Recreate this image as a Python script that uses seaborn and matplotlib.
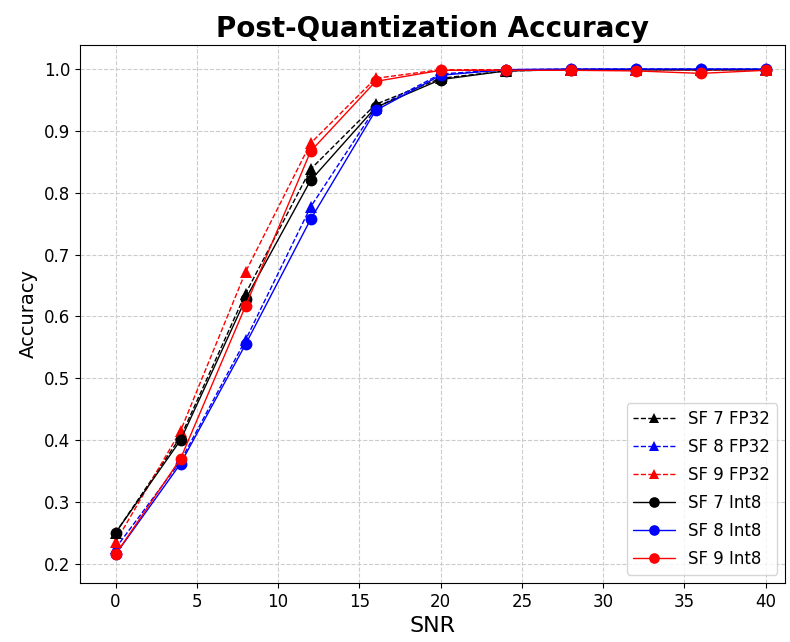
import matplotlib
matplotlib.use("Agg")
import matplotlib.pyplot as plt
import seaborn as sns
import pandas as pd

snr = [0, 4, 8, 12, 16, 20, 24, 28, 32, 36, 40]
sf7_fp32 = [0.250, 0.405, 0.637, 0.838, 0.943, 0.985, 0.997, 0.999, 0.999, 0.999, 0.999]
sf8_fp32 = [0.225, 0.366, 0.562, 0.777, 0.937, 0.992, 0.999, 1.000, 1.000, 1.000, 1.000]
sf9_fp32 = [0.235, 0.415, 0.672, 0.880, 0.985, 0.999, 0.999, 0.999, 0.999, 0.998, 0.999]
sf7_int8 = [0.250, 0.400, 0.628, 0.820, 0.938, 0.983, 0.997, 0.999, 0.999, 0.999, 0.999]
sf8_int8 = [0.215, 0.362, 0.555, 0.757, 0.933, 0.990, 0.999, 1.000, 1.000, 1.000, 1.000]
sf9_int8 = [0.215, 0.370, 0.617, 0.867, 0.980, 0.998, 0.998, 0.998, 0.997, 0.993, 0.998]

labels = ["SF 7 FP32", "SF 8 FP32", "SF 9 FP32", "SF 7 Int8", "SF 8 Int8", "SF 9 Int8"]
series = [sf7_fp32, sf8_fp32, sf9_fp32, sf7_int8, sf8_int8, sf9_int8]
colors = ["black", "blue", "red", "black", "blue", "red"]
styles = ["--", "--", "--", "-", "-", "-"]
markers = ["^", "^", "^", "o", "o", "o"]

sns.set_style("ticks")
plt.rcParams.update({"text.color": "black", "axes.labelcolor": "black",
                     "xtick.color": "black", "ytick.color": "black",
                     "axes.edgecolor": "black"})
fig, ax = plt.subplots(figsize=(7.9, 6.42), dpi=100)

for lab, vals, c, ls, m in zip(labels, series, colors, styles, markers):
    df = pd.DataFrame({"SNR": snr, "Accuracy": vals})
    sns.lineplot(data=df, x="SNR", y="Accuracy", ax=ax, color=c, linestyle=ls,
                 marker=m, markersize=8.5, markeredgewidth=0, linewidth=1.0, label=lab)

ax.set_title("Post-Quantization Accuracy", fontsize=20, fontweight="bold", color="black")
ax.set_xlabel("SNR", fontsize=16)
ax.set_ylabel("Accuracy", fontsize=14)
ax.set_xticks([0, 5, 10, 15, 20, 25, 30, 35, 40])
ax.set_yticks([0.2, 0.3, 0.4, 0.5, 0.6, 0.7, 0.8, 0.9, 1.0])
ax.tick_params(labelsize=12, colors="black")
ax.grid(True, linestyle="--", color="#cccccc", linewidth=0.8)
ax.set_xlim(-2.2, 41.2)
ax.set_ylim(0.169, 1.039)
for s in ax.spines.values():
    s.set_visible(True)
    s.set_color("black")
ax.legend(loc="lower right", fontsize=12, frameon=True, handlelength=2.5,
          labelspacing=0.6, markerscale=0.9)
fig.subplots_adjust(left=0.101, right=0.994, top=0.93, bottom=0.092)
fig.savefig("out.png", dpi=100)
